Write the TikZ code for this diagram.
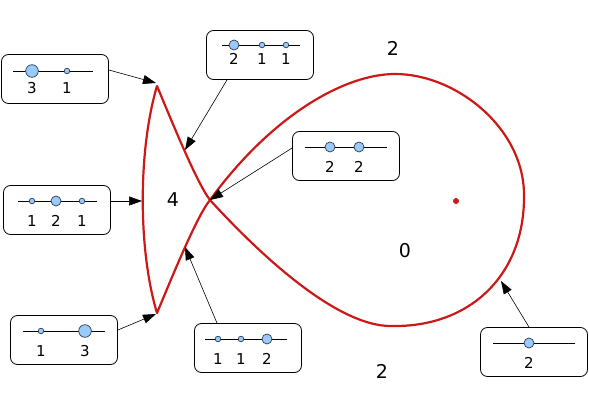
\documentclass[tikz,border=0pt]{standalone}
\usepackage{fontspec}
\setmainfont{DejaVu Sans}
\usetikzlibrary{arrows.meta}
\definecolor{curvered}{RGB}{205,24,24}
\definecolor{rootblue}{RGB}{153,202,250}
\definecolor{rootedge}{RGB}{45,60,85}

\begin{document}
\begin{tikzpicture}[x = 1pt, y = -1pt,
    curve/.style = {draw = curvered, line width = 2.2pt, line cap = round, line join = round},
    rbox/.style = {draw, rounded corners = 7pt, minimum width = 107pt,
      minimum height = 49pt, line width = .8pt},
    root/.style = {draw = rootedge, fill = rootblue, line width = .7pt},
    num/.style = {font = \fontsize{15}{15}\selectfont, inner sep = 0pt},
    big/.style = {font = \fontsize{19}{19}\selectfont, inner sep = 0pt},
    pointer/.style = {-{Triangle[length = 13pt, width = 9pt]}, line width = .6pt}]
  \useasboundingbox (0,0) rectangle (589,401);

  % cusps, crossing and the points the arrows hit
  \coordinate (ct) at (157,86);
  \coordinate (cb) at (157,313);
  \coordinate (x0) at (210,200);
  \coordinate (p31) at (156,83);
  \coordinate (p211) at (185,150);
  \coordinate (p121) at (142,201);
  \coordinate (p13) at (156,314);
  \coordinate (p112) at (185,247);
  \coordinate (p2) at (501,281);

  \draw [curve] (ct) .. controls (168,112) and (196,182) .. (x0)
    .. controls (252,246) and (335,328) .. (393,326)
    .. controls (470,327) and (525,275) .. (524,195)
    .. controls (524,128) and (456,74) .. (395,74)
    .. controls (345,74) and (272,115) .. (x0)
    .. controls (196,217) and (168,287) .. (cb)
    .. controls (138,250) and (138,150) .. (ct);
  \fill [curvered] (456,201) circle (3pt);

  \node [big] (r4) at (173,200) {4};
  \node [big] (r0) at (405,251) {0};
  \node [big] (rt) at (393,48) {2};
  \node [big] (rb) at (382,371) {2};

  % root pictures
  \node [rbox] (b31) at (55,79) {};
  \begin{scope}[shift = {(b31.center)}]
    \draw (-42,-8) -- (38,-8);
    \foreach \x/\r/\m in {-23/6.3/3, 12/2.8/1}
      \filldraw [root] (\x,-8) circle (\r pt) node [num] at (\x,9) {\m};
  \end{scope}

  \node [rbox] (b211) at (260,55) {};
  \begin{scope}[shift = {(b211.center)}]
    \draw (-38,-10) -- (40,-10);
    \foreach \x/\r/\m in {-26/5/2, 2/2.8/1, 26/2.8/1}
      \filldraw [root] (\x,-10) circle (\r pt) node [num] at (\x,4) {\m};
  \end{scope}

  \node [rbox] (b22) at (346,156) {};
  \begin{scope}[shift = {(b22.center)}]
    \draw (-41,-9) -- (41,-9);
    \foreach \x/\r/\m in {-16/5/2, 13/5/2}
      \filldraw [root] (\x,-9) circle (\r pt) node [num] at (\x,11) {\m};
  \end{scope}

  \node [rbox] (b121) at (57,210) {};
  \begin{scope}[shift = {(b121.center)}]
    \draw (-39,-9) -- (40,-9);
    \foreach \x/\r/\m in {-25/2.8/1, -1/5/2, 25/2.8/1}
      \filldraw [root] (\x,-9) circle (\r pt) node [num] at (\x,11) {\m};
  \end{scope}

  \node [rbox] (b13) at (64,340) {};
  \begin{scope}[shift = {(b13.center)}]
    \draw (-41,-9) -- (41,-9);
    \foreach \x/\r/\m in {-23/2.8/1, 21/6.3/3}
      \filldraw [root] (\x,-9) circle (\r pt) node [num] at (\x,11) {\m};
  \end{scope}

  \node [rbox] (b112) at (248,348) {};
  \begin{scope}[shift = {(b112.center)}]
    \draw (-43,-9) -- (39,-9);
    \foreach \x/\r/\m in {-30/2.8/1, -7/2.8/1, 19/5/2}
      \filldraw [root] (\x,-9) circle (\r pt) node [num] at (\x,11) {\m};
  \end{scope}

  \node [rbox] (b2) at (534,352) {};
  \begin{scope}[shift = {(b2.center)}]
    \draw (-41,-9) -- (41,-9);
    \foreach \x/\r/\m in {-5/5/2}
      \filldraw [root] (\x,-9) circle (\r pt) node [num] at (\x,11) {\m};
  \end{scope}

  % arrows
  \draw [pointer] ([yshift = 9pt]b31.east) -- (p31);
  \draw [pointer] ([xshift = -33pt]b211.south) -- (p211);
  \draw [pointer] ([yshift = 8pt]b22.west) -- (x0);
  \draw [pointer] ([yshift = 9pt]b121.east) -- (p121);
  \draw [pointer] ([yshift = 10pt]b13.east) -- (p13);
  \draw [pointer] ([xshift = -31pt]b112.north) -- (p112);
  \draw [pointer] ([xshift = -5pt]b2.north) -- (p2);
\end{tikzpicture}
\end{document}
